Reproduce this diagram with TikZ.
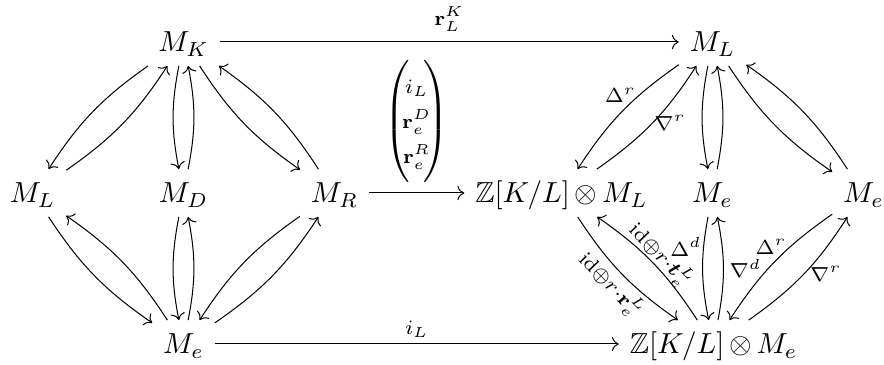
\documentclass[tikz,border=0pt]{standalone}
\usepackage{amsmath,amssymb}
\usetikzlibrary{arrows.meta}
\begin{document}
\begin{tikzpicture}[x=0.345pt,y=-0.345pt,
  obj/.style={inner sep=3.6pt, text height=7.9pt, text depth=1pt, anchor=base},
  arr/.style={-{Computer Modern Rightarrow}, line width=0.35pt},
  bd/.style={bend right=11},
  lab/.style={inner sep=2pt}
]
\useasboundingbox (0,0) rectangle (884,365);
% nodes
\node[obj] (MK)  at (183.5,52)  {$M_K$};
\node[obj] (ML)  at (32.5,203)  {$M_L$};
\node[obj] (MD)  at (183.5,203) {$M_D$};
\node[obj] (MR)  at (334.5,203) {$M_R$};
\node[obj] (Me)  at (183.5,354) {$M_e$};
\node[obj] (ML2) at (712.5,52)  {$M_L$};
\node[obj] (ZL)  at (561.5,203) {$\mathbb{Z}[K/L]\,{\otimes}\,M_L$};
\node[obj] (Me1) at (712.5,203) {$M_e$};
\node[obj] (Me2) at (863.5,203) {$M_e$};
\node[obj] (ZE)  at (713.5,354) {$\mathbb{Z}[K/L]\,{\otimes}\,M_e$};
% left diamond
\draw[arr] (MK) to[bd] (ML);
\draw[arr] (ML) to[bd] (MK);
\draw[arr] (MK) to[bd] (MD);
\draw[arr] (MD) to[bd] (MK);
\draw[arr] (MK) to[bd] (MR);
\draw[arr] (MR) to[bd] (MK);
\draw[arr] (ML) to[bd] (Me);
\draw[arr] (Me) to[bd] (ML);
\draw[arr] (MD) to[bd] (Me);
\draw[arr] (Me) to[bd] (MD);
\draw[arr] (MR) to[bd] (Me);
\draw[arr] (Me) to[bd] (MR);
% horizontal arrows
\draw[arr] (MK) -- node[lab, above, inner sep=3.5pt] {$\scriptstyle\mathbf{r}_L^K$} (ML2);
\draw[arr] (MR) -- node[lab, above, inner sep=3.5pt] {\delimitershortfall=-2pt$\left(\begin{array}{@{\hspace{-2.5pt}}c@{\hspace{-2.5pt}}}\scriptstyle i_L\\ \scriptstyle\mathbf{r}_e^D\\ \scriptstyle\mathbf{r}_e^R\end{array}\right)$} (ZL);
\draw[arr] (Me) -- node[lab, above] {$\scriptstyle i_L$} (ZE);
% right diamond
\draw[arr] (ML2) to[bd] node[lab, pos=0.33, left, inner sep=1pt] {$\scriptstyle\Delta^r$} (ZL);
\draw[arr] (ZL) to[bd] node[lab, pos=0.5, right, inner sep=0.5pt] {$\scriptstyle\nabla^r$} (ML2);
\draw[arr] (ML2) to[bd] (Me1);
\draw[arr] (Me1) to[bd] (ML2);
\draw[arr] (ML2) to[bd] (Me2);
\draw[arr] (Me2) to[bd] (ML2);
\draw[arr] (ZL) to[bd] node[lab, midway, sloped, below, inner sep=1pt] {$\scriptstyle\mathrm{id}\oplus r\cdot\mathbf{r}_e^L$} (ZE);
\draw[arr] (ZE) to[bd] node[lab, pos=0.5, sloped, above, inner sep=0.5pt, yshift=-1.2pt] {$\scriptstyle\mathrm{id}\oplus r\cdot\boldsymbol{t}_e^L$} (ZL);
\draw[arr] (Me1) to[bd] node[lab, pos=0.28, left, inner sep=0.5pt] {$\scriptstyle\Delta^d$} (ZE);
\draw[arr] (ZE) to[bd] node[lab, pos=0.5, right] {$\scriptstyle\nabla^d$} (Me1);
\draw[arr] (Me2) to[bd] node[lab, pos=0.35, left, inner sep=1pt] {$\scriptstyle\Delta^r$} (ZE);
\draw[arr] (ZE) to[bd] node[lab, pos=0.5, right] {$\scriptstyle\nabla^r$} (Me2);
\end{tikzpicture}
\end{document}
